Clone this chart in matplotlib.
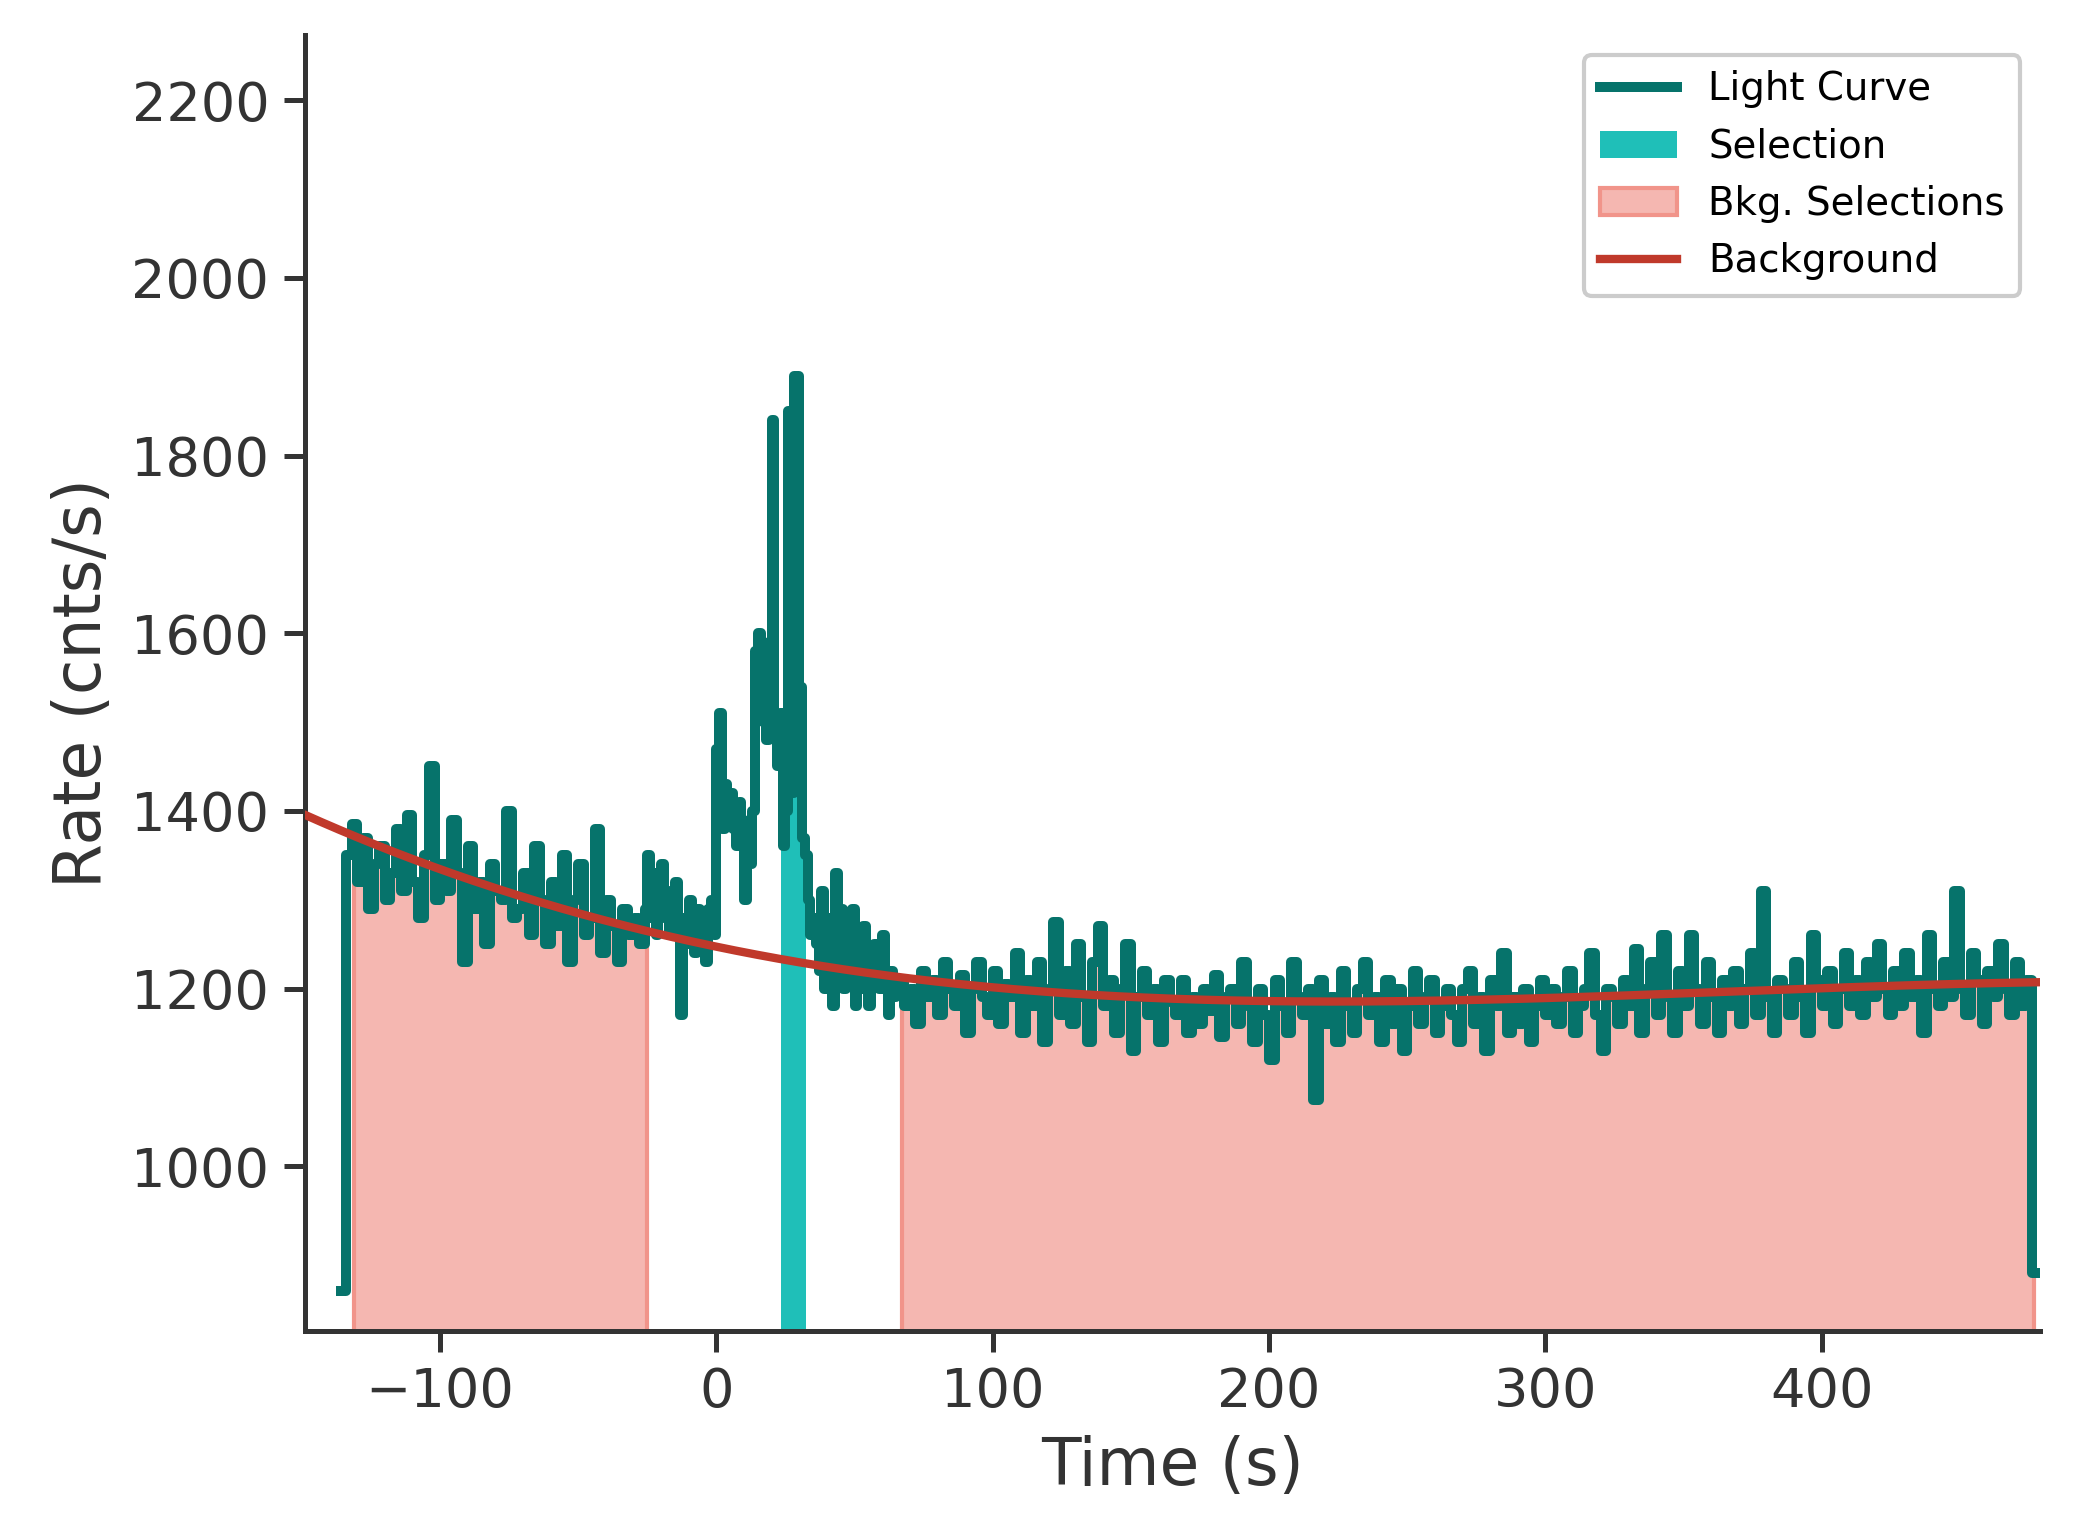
import numpy as np
import matplotlib
matplotlib.use("Agg")
import matplotlib.pyplot as plt

seg1_range = (-136, -26)
seg1 = [860,1350,1385,1320,1370,1290,1340,1360,1300,1330,1380,1310,1395,1320,1280,1350,1450,1300,1340,1310,
        1390,1330,1230,1360,1290,1320,1250,1340,1310,1300,1400,1280,1290,1330,1260,1360,1300,1250,1320,1270,
        1350,1230,1300,1340,1260,1280,1380,1240,1300,1270,1230,1290,1260,1280,1250]
seg2_range = (-26, 66)
seg2 = [1290,1350,1280,1330,1260,1300,1340,1280,1310,1260,1290,1320,1270,1170,1280,1250,1300,1260,1240,1290,1270,1250,1230,1290,1300,1260,
        1470,1510,1380,1430,1400,1420,1380,1360,1410,1390,1300,1380,1340,1400,1580,1600,1570,1500,1480,1590,1840,
        1500,1450,1510,1360,1400,1850,1420,1890,1890,1540,1370,1350,1300,1260,1280,
        1250,1220,1310,1200,1280,1240,1180,1330,1250,1290,1200,1260,1230,1290,1180,1250,1200,1270,1240,1180,1210,1250,1230,1200,1260,1200,1170,1220,1190,1210]
seg3_range = (66, 478)
seg3 = [1210,1180,1200,1160,1220,1190,1210,1170,1230,1200,
        1180,1215,1150,1200,1230,1190,1170,1220,1160,1205,
        1190,1240,1150,1210,1180,1230,1140,1200,1275,1170,
        1220,1160,1250,1190,1140,1230,1270,1180,1210,1150,
        1200,1250,1130,1190,1220,1170,1200,1140,1210,1185,
        1170,1210,1150,1190,1160,1200,1175,1215,1145,1190,
        1200,1160,1230,1180,1140,1200,1170,1120,1210,1180,
        1150,1230,1190,1170,1200,1075,1210,1160,1190,1140,
        1220,1180,1150,1200,1230,1170,1190,1140,1210,1160,
        1200,1130,1180,1220,1160,1190,1210,1150,1180,1200,
        1170,1140,1200,1220,1160,1190,1130,1210,1180,1240,
        1150,1190,1160,1200,1140,1180,1210,1170,1200,1160,
        1190,1220,1150,1180,1200,1240,1170,1130,1200,1190,
        1160,1210,1180,1245,1150,1200,1230,1170,1260,1190,
        1150,1220,1180,1260,1200,1160,1230,1190,1150,1210,
        1180,1220,1160,1200,1240,1170,1310,1190,1150,1210,
        1200,1170,1230,1190,1150,1260,1210,1180,1220,1160,
        1200,1240,1180,1210,1170,1230,1190,1250,1200,1170,
        1220,1180,1240,1190,1210,1150,1260,1200,1180,1230,
        1190,1310,1200,1170,1240,1210,1160,1220,1190,1250,
        1200,1170,1230,1180,1210,880]

bkg_t = [-149,-100,-50,0,50,100,150,200,250,300,350,400,478]
bkg_v = [1395,1335,1285,1248,1220,1200,1190,1186,1186,1190,1195,1200,1207]
sel_range = (23.5, 32.5)
bkg_ranges = [(-131, -25), (67, 477)]

edges = []
vals = []
for (a, b), s in [(seg1_range, seg1), (seg2_range, seg2), (seg3_range, seg3)]:
    e = np.linspace(a, b, len(s) + 1)
    edges.extend(e[:-1])
    vals.extend(s)
edges.append(seg3_range[1])
edges = np.array(edges); vals = np.array(vals, float)
lo = edges[:-1]; hi = edges[1:]

fig, ax = plt.subplots(figsize=(2073/300, 1540/300), dpi=300)
curve_c = "#06736b"

def fill_region(r, **kw):
    m = (hi > r[0]) & (lo < r[1])
    x = np.concatenate([np.maximum(lo[m], r[0]), [min(hi[m][-1], r[1])]])
    y = np.concatenate([vals[m], [vals[m][-1]]])
    return ax.fill_between(x, 0, y, step="post", **kw)

for i, r in enumerate(bkg_ranges):
    fill_region(r, facecolor="#f5b7b1", edgecolor="#f1948a", linewidth=1, zorder=1,
                label="Bkg. Selections" if i == 0 else None)
fill_region(sel_range, facecolor="#1fbfb8", edgecolor="none", zorder=1, label="Selection")

ax.step(np.append(lo, hi[-1]), np.append(vals, vals[-1]), where="post", color=curve_c, lw=2.4,
        zorder=2, label="Light Curve")

p = np.polyfit(bkg_t, bkg_v, 3)
tt = np.linspace(-149, 479, 400)
ax.plot(tt, np.polyval(p, tt), color="#c0392b", lw=2.0, zorder=3, label="Background")

ax.set_xlim(-149, 479)
ax.set_ylim(815, 2273)
ax.set_xticks([-100, 0, 100, 200, 300, 400])
ax.set_yticks([1000, 1200, 1400, 1600, 1800, 2000, 2200])
ax.set_xlabel("Time (s)", fontsize=15.5, color="#333333")
ax.set_ylabel("Rate (cnts/s)", fontsize=15.5, color="#333333")
ax.tick_params(labelsize=13, colors="#333333", width=1.2, length=5)
for s in ["top", "right"]:
    ax.spines[s].set_visible(False)
for s in ["left", "bottom"]:
    ax.spines[s].set_color("#333333"); ax.spines[s].set_linewidth(1.2)

h, l = ax.get_legend_handles_labels()
order = [l.index(n) for n in ["Light Curve", "Selection", "Bkg. Selections", "Background"]]
ax.legend([h[i] for i in order], [l[i] for i in order], loc="upper right", fontsize=9.3, framealpha=1)

fig.subplots_adjust(left=0.147, right=0.984, top=0.977, bottom=0.136)
fig.savefig("out.png", dpi=300)
